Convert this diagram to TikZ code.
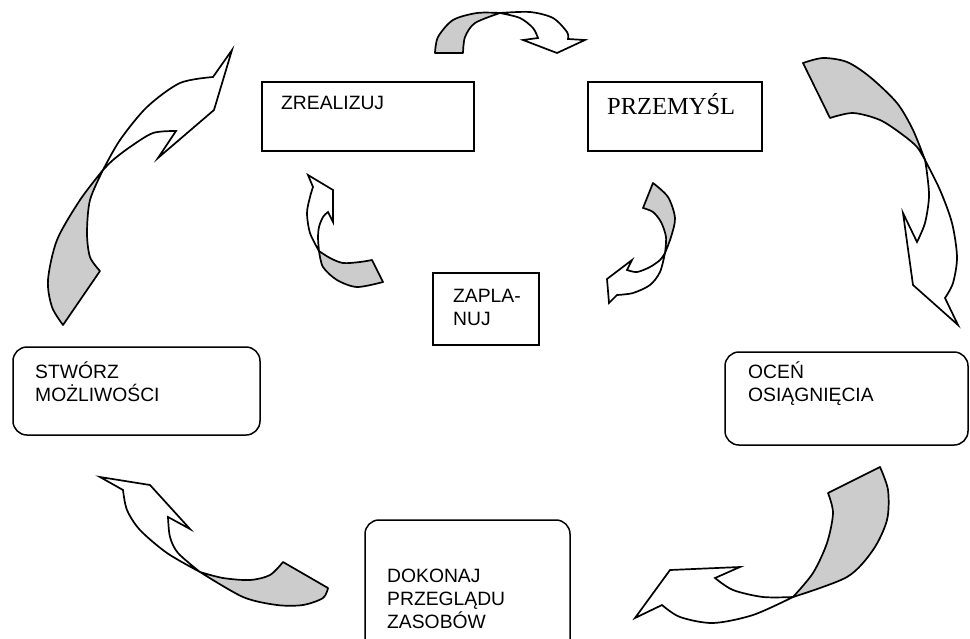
\documentclass[tikz,border=0pt]{standalone}
\usepackage{fontspec}
\setmainfont{Liberation Sans}
\newfontfamily\timesfont{Liberation Serif}
\definecolor{ribbon}{RGB}{204,204,204}
\begin{document}
\begin{tikzpicture}[x=1pt,y=-1pt,
  sqbox/.style={draw=black,line width=1.6pt,inner sep=0pt},
  rbox/.style={draw=black,line width=1.5pt,rounded corners=14pt,inner sep=0pt},
  label/.style={inner sep=0pt,anchor=base west,align=left,text width=200pt,
    font=\fontsize{19.3}{23}\selectfont},
  back/.style={fill=ribbon,draw=black,line width=1.7pt,line join=round},
  front/.style={fill=white,draw=black,line width=1.7pt,line join=miter},
]
\useasboundingbox (0,0) rectangle (970,638);

% boxes
\node[sqbox,minimum width=212pt,minimum height=69pt] (zrealizuj) at (368,116.5) {};
\node[sqbox,minimum width=174pt,minimum height=69pt] (przemysl) at (675,116.5) {};
\node[sqbox,minimum width=106pt,minimum height=72pt] (zaplanuj) at (486,309) {};
\node[rbox,minimum width=247pt,minimum height=88pt] (stworz) at (136.5,391) {};
\node[rbox,minimum width=243pt,minimum height=93pt] (ocen) at (846.5,398.5) {};
\node[rbox,minimum width=205pt,minimum height=140pt] (dokonaj) at (467.5,590) {};

% texts
\node[label] (zrealizuj-t) at (281,109) {ZREALIZUJ};
\node[label,font=\timesfont\fontsize{24.5}{28}\selectfont] (przemysl-t) at (607,114) {PRZEMYŚL};
\node[label] (zaplanuj-t) at (453,302) {ZAPLA-\\NUJ};
\node[label] (stworz-t) at (35,378) {STWÓRZ\\MOŻLIWOŚCI};
\node[label] (ocen-t) at (748,378) {OCEŃ\\OSIĄGNIĘCIA};
\node[label] (dokonaj-t) at (387,582) {DOKONAJ\\PRZEGLĄDU\\ZASOBÓW};

% top arrow
\filldraw[back] (435,53) -- (463,53)
  -- plot[smooth] coordinates {(463,53) (465,37) (475,23) (500,13)}
  -- plot[smooth] coordinates {(500,13) (477,13) (453,20) (438,37) (435,53)} -- cycle;
\filldraw[front] (500,13)
  -- plot[smooth] coordinates {(500,13) (530,12) (553,18) (567,32) (568,39)}
  -- (585,40) -- (557,53) -- (523,40) -- (538,38)
  -- plot[smooth] coordinates {(538,38) (533,28) (520,18) (500,13)} -- cycle;

% right arrow
\filldraw[back] (803,63) -- (830,118)
  -- plot[smooth] coordinates {(830,118) (853,113) (880,120) (903,135) (917,147) (925,160)}
  -- plot[smooth] coordinates {(925,160) (913,130) (897,103) (870,77) (847,62) (823,58) (803,63)} -- cycle;
\filldraw[front] (925,160)
  -- plot[smooth] coordinates {(925,160) (940,190) (952,223) (957,257) (953,283) (945,298)}
  -- (958,325) -- (913,285) -- (903,213) -- (917,242)
  -- plot[smooth] coordinates {(917,242) (925,223) (929,197) (927,173) (925,160)} -- cycle;

% left arrow
\filldraw[back] (63,325) -- (100,271)
  -- plot[smooth] coordinates {(100,271) (90,257) (87,233) (90,200) (103,170)}
  -- plot[smooth] coordinates {(103,170) (80,200) (57,240) (48,280) (52,307) (63,325)} -- cycle;
\filldraw[front] (103,170)
  -- plot[smooth] coordinates {(103,170) (120,140) (147,107) (180,83) (213,77)}
  -- (232,50) -- (214,110) -- (158,158) -- (176,131)
  -- plot[smooth] coordinates {(176,131) (153,133) (130,147) (113,160) (103,170)} -- cycle;

% small left arrow
\filldraw[back] (372,260) -- (383,282)
  -- plot[smooth] coordinates {(383,282) (357,287) (337,280) (323,267) (319,251)}
  -- plot[smooth] coordinates {(319,251) (330,258) (343,263) (360,262) (372,260)} -- cycle;
\filldraw[front] (319,251)
  -- plot[smooth] coordinates {(319,251) (310,233) (307,213) (310,197) (313,187)}
  -- (308,175) -- (333,190) -- (333,222) -- (328,212)
  -- plot[smooth] coordinates {(328,212) (323,217) (319,227) (318,238) (319,251)} -- cycle;

% small right arrow
\filldraw[back] (653,183) -- (643,208)
  -- plot[smooth] coordinates {(643,208) (653,212) (661,222) (666,237) (665,253)}
  -- plot[smooth] coordinates {(665,253) (671,237) (675,218) (668,197) (653,183)} -- cycle;
\filldraw[front] (665,253)
  -- plot[smooth] coordinates {(665,253) (660,272) (650,285) (633,293) (617,295)}
  -- (609,303) -- (607,279) -- (632,260) -- (627,270)
  -- plot[smooth] coordinates {(627,270) (637,272) (650,267) (660,260) (665,253)} -- cycle;

% bottom-left arrow
\filldraw[back] (283,562) -- (328,588)
  -- plot[smooth] coordinates {(328,588) (323,598) (303,605) (277,605) (243,597) (200,572)}
  -- plot[smooth] coordinates {(200,572) (223,578) (250,580) (270,575) (283,562)} -- cycle;
\filldraw[front] (200,572)
  -- plot[smooth] coordinates {(200,572) (167,553) (140,530) (127,510) (123,490)}
  -- (100,477) -- (150,485) -- (190,529) -- (168,517)
  -- plot[smooth] coordinates {(168,517) (170,537) (178,553) (200,572)} -- cycle;

% bottom-right arrow
\filldraw[back] (828,493) -- (880,467)
  -- plot[smooth] coordinates {(880,467) (888,490) (887,520) (873,550) (847,577) (793,597)}
  -- plot[smooth] coordinates {(793,597) (813,573) (827,543) (833,513) (828,493)} -- cycle;
\filldraw[front] (793,597)
  -- plot[smooth] coordinates {(793,597) (753,615) (713,623) (680,617) (662,605)}
  -- (635,618) -- (670,570) -- (740,567) -- (715,578)
  -- plot[smooth] coordinates {(715,578) (733,590) (763,597) (793,597)} -- cycle;
\end{tikzpicture}
\end{document}
